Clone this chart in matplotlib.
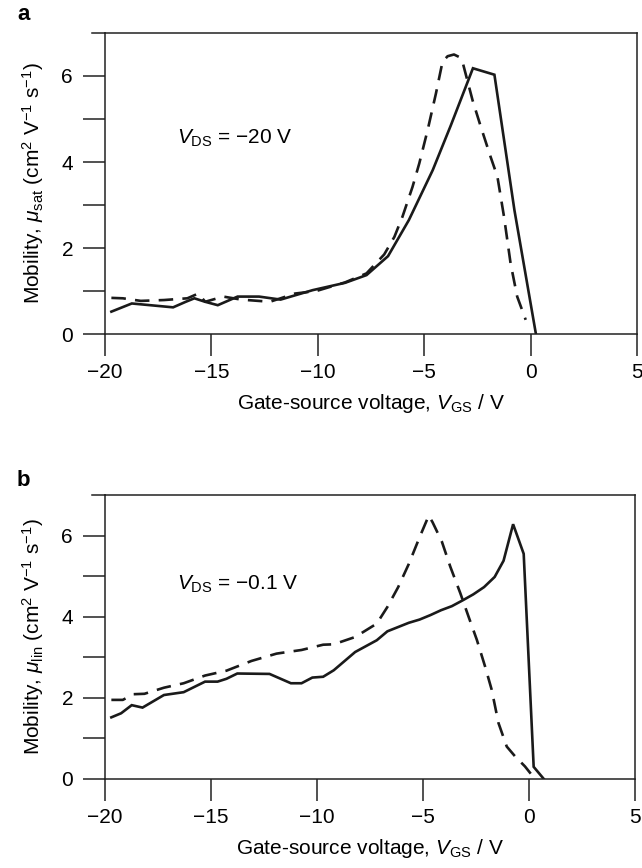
import numpy as np
import matplotlib
matplotlib.use('Agg')
import matplotlib.pyplot as plt

plt.rcParams['font.family'] = ['Liberation Sans', 'DejaVu Sans']
plt.rcParams['mathtext.fontset'] = 'custom'
plt.rcParams['mathtext.rm'] = 'Liberation Sans'
plt.rcParams['mathtext.it'] = 'Liberation Sans:italic'
plt.rcParams['mathtext.bf'] = 'Liberation Sans:bold'
plt.rcParams['axes.unicode_minus'] = True

# panel a: saturation mobility, V_DS = -20 V
a_solid_x = [-19.7, -18.74, -16.8, -16.2, -15.8, -15.3, -14.7, -13.77, -12.76, -11.75, -10.24,
             -8.72, -7.71, -6.70, -5.72, -4.6, -3.75, -2.71, -1.70, -0.76, 0.25]
a_solid_y = [0.52, 0.71, 0.62, 0.75, 0.83, 0.75, 0.67, 0.87, 0.87, 0.80, 1.02,
             1.19, 1.37, 1.81, 2.65, 3.81, 4.85, 6.18, 6.03, 2.88, 0.0]
a_dash_x = [-19.7, -19.16, -18.32, -17.22, -16.13, -15.62, -15.29, -14.44, -13.60, -12.25, -11.75,
            -11.08, -10.07, -8.72, -7.71, -6.88, -6.40, -6.02, -5.55, -5.23, -4.84, -4.45,
            -4.14, -3.90, -3.60, -3.35, -3.20, -2.73, -2.34, -1.88, -1.56, -1.25, -0.94,
            -0.63, -0.23]
a_dash_y = [0.84, 0.83, 0.77, 0.79, 0.83, 0.94, 0.75, 0.87, 0.80, 0.75, 0.83,
            0.94, 1.00, 1.20, 1.41, 1.85, 2.26, 2.73, 3.42, 3.97, 4.74, 5.59,
            6.33, 6.46, 6.50, 6.44, 6.33, 5.44, 4.82, 4.12, 3.66, 2.73, 1.64,
            0.87, 0.33]

# panel b: linear mobility, V_DS = -0.1 V
b_solid_x = [-19.7, -19.24, -18.74, -18.23, -17.22, -16.29, -15.28, -14.69, -14.27, -13.76, -12.24,
             -11.23, -10.73, -10.22, -9.71, -9.21, -8.20, -7.18, -6.68, -5.67, -5.16, -4.65,
             -4.15, -3.64, -3.14, -2.63, -2.12, -1.62, -1.20, -0.75, -0.25, 0.22, 0.70]
b_solid_y = [1.52, 1.62, 1.82, 1.76, 2.07, 2.14, 2.40, 2.40, 2.47, 2.60, 2.59,
             2.36, 2.36, 2.50, 2.52, 2.68, 3.13, 3.42, 3.64, 3.85, 3.93, 4.04,
             4.16, 4.26, 4.40, 4.55, 4.73, 4.98, 5.38, 6.28, 5.55, 0.30, 0.0]
b_dash_x = [-19.7, -19.16, -18.65, -18.14, -17.22, -16.29, -15.28, -14.27, -13.09, -11.91, -11.40,
            -10.73, -9.71, -9.21, -8.20, -7.18, -6.68, -6.17, -5.67, -5.16, -4.73, -4.55,
            -4.11, -3.71, -3.24, -2.85, -2.46, -2.07, -1.76, -1.44, -1.05, -0.66, -0.19, 0.13]
b_dash_y = [1.95, 1.95, 2.09, 2.10, 2.25, 2.36, 2.55, 2.67, 2.91, 3.09, 3.13,
            3.18, 3.31, 3.32, 3.50, 3.83, 4.24, 4.73, 5.30, 5.96, 6.49, 6.33,
            5.85, 5.23, 4.58, 4.00, 3.43, 2.77, 2.20, 1.38, 0.80, 0.56, 0.31, 0.10]

fig = plt.figure(figsize=(6.42, 8.68), dpi=100)
W, H = 642.0, 868.0
ax_a = fig.add_axes([105 / W, 1 - 334 / H, 532 / W, 301 / H])
ax_b = fig.add_axes([105 / W, 1 - 779 / H, 530 / W, 284 / H])

panels = [
    (ax_a, a_solid_x, a_solid_y, a_dash_x, a_dash_y, r'$\mu_{\rm sat}$', '\u221220 V', 4.55),
    (ax_b, b_solid_x, b_solid_y, b_dash_x, b_dash_y, r'$\mu_{\rm lin}$', '\u22120.1 V', 4.8),
]

fs = 15
for ax, sx, sy, dx, dy, mu, vds, ty in panels:
    ax.plot(sx, sy, color='#1a1a1a', lw=1.9, solid_joinstyle='miter')
    ax.plot(dx, dy, color='#1a1a1a', lw=1.9, ls=(0, (5.5, 3.5)))
    ax.set_xlim(-20, 5)
    ax.set_ylim(0, 7)
    ax.set_xticks([-20, -15, -10, -5, 0, 5])
    ax.set_yticks([0, 2, 4, 6])
    ax.set_yticks([1, 3, 5], minor=True)
    ax.tick_params(axis='both', which='both', direction='out', length=16, width=1.1,
                   labelsize=fs, color='#222222')
    ax.tick_params(axis='x', pad=5)
    ax.tick_params(axis='y', pad=7)
    ax.set_yticklabels(['0', '2', '4', '6'])
    ax.set_xticklabels(['\u221220', '\u221215', '\u221210', '\u22125', '0', '5'])
    for sp in ax.spines.values():
        sp.set_linewidth(1.1)
        sp.set_color('#222222')
    # short tick at the top of the y axis
    ax.plot([-0.025, 0], [1, 1], transform=ax.transAxes, color='#222222', lw=1.1, clip_on=False)
    ax.set_xlabel('Gate-source voltage, $V_{\\rm GS}$ / V', fontsize=fs, labelpad=7)
    ax.set_ylabel('Mobility, ' + mu + ' (cm$^2$ V$^{\u22121}$ s$^{\u22121}$)', fontsize=fs, labelpad=11)
    ax.text(-16.6, ty, r'$V_{\rm DS}$ = ' + vds, fontsize=fs, va='center', ha='left')

fig.text(17 / W, 1 - 15 / H, 'a', fontsize=16, fontweight='bold', va='center', ha='left')
fig.text(17 / W, 1 - 480 / H, 'b', fontsize=16, fontweight='bold', va='center', ha='left')

fig.savefig('out.png', dpi=100)
